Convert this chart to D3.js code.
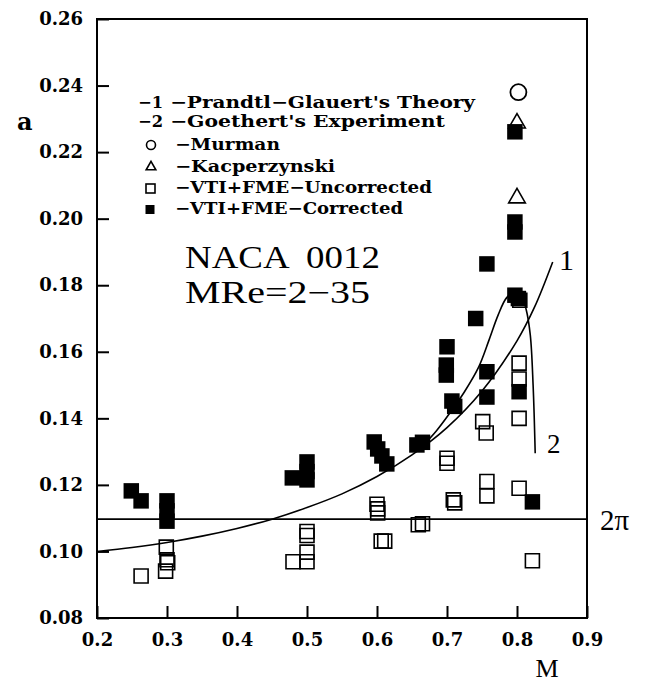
<!DOCTYPE html>
<html>
<head>
<meta charset="utf-8">
<script src="https://cdn.jsdelivr.net/npm/d3@7"></script>
<style>
  body { margin: 0; background: #fff; }
</style>
</head>
<body>
<div class="canva"></div>
<script>
// tick values
const xTicks = [0.2, 0.3, 0.4, 0.5, 0.6, 0.7, 0.8, 0.9];
const yTicks = [0.08, 0.10, 0.12, 0.14, 0.16, 0.18, 0.20, 0.22, 0.24, 0.26];

// curve 1 - Prandtl-Glauert theory
const pgM = [0.20, 0.25, 0.30, 0.35, 0.40, 0.45, 0.50, 0.55, 0.60, 0.65, 0.70, 0.75, 0.80, 0.825, 0.851];
const pgA = [0.1000, 0.1012, 0.1027, 0.1046, 0.1069, 0.1097, 0.1132, 0.1173, 0.1225, 0.1290, 0.1372, 0.1482, 0.1633, 0.1734, 0.1870];

// curve 2 - Goethert's experiment
const goM = [0.663, 0.685, 0.704, 0.725, 0.745, 0.760, 0.773, 0.785, 0.797, 0.806, 0.813, 0.819, 0.823, 0.826];
const goA = [0.1312, 0.1363, 0.1416, 0.1480, 0.1553, 0.1635, 0.1710, 0.1762, 0.1780, 0.1768, 0.1728, 0.1650, 0.1500, 0.1295];

// 2*pi per degree
const twoPi = 0.1097;

// Murman
const murM = [0.802];
const murA = [0.238];

// Kacperzynski
const kacM = [0.800, 0.800];
const kacA = [0.2287, 0.2062];

// VTI+FME uncorrected (open squares)
const uncM = [0.263, 0.299, 0.300, 0.301, 0.298, 0.480, 0.500, 0.500, 0.500, 0.500,
              0.600, 0.601, 0.601, 0.606, 0.611, 0.659, 0.665, 0.700, 0.700, 0.709,
              0.711, 0.751, 0.756, 0.757, 0.757, 0.803, 0.803, 0.803, 0.804, 0.803, 0.822];
const uncA = [0.0926, 0.1013, 0.0975, 0.0966, 0.0941, 0.0969, 0.1060, 0.1048, 0.0998, 0.0969,
              0.1142, 0.1128, 0.1116, 0.1031, 0.1031, 0.1080, 0.1083, 0.1280, 0.1265, 0.1155,
              0.1146, 0.1390, 0.1356, 0.1210, 0.1167, 0.1566, 0.1518, 0.1400, 0.1755, 0.1190, 0.0972];

// VTI+FME corrected (filled squares)
const corM = [0.249, 0.263, 0.300, 0.300, 0.300, 0.479, 0.500, 0.500, 0.500, 0.596,
              0.601, 0.607, 0.614, 0.657, 0.665, 0.700, 0.699, 0.699, 0.707, 0.711,
              0.741, 0.757, 0.757, 0.757, 0.797, 0.797, 0.797, 0.797, 0.802, 0.803, 0.822];
const corA = [0.1182, 0.1152, 0.1152, 0.1122, 0.1091, 0.1221, 0.1269, 0.1240, 0.1215, 0.1329,
              0.1308, 0.1287, 0.1263, 0.1320, 0.1328, 0.1615, 0.1560, 0.1530, 0.1452, 0.1436,
              0.1700, 0.1864, 0.1540, 0.1464, 0.2261, 0.1990, 0.1960, 0.1770, 0.1760, 0.1480, 0.1149];

const legendText = ["\u2212Prandtl\u2212Glauert's Theory", "\u2212Goethert's Experiment", "\u2212Murman",
                    "\u2212Kacperzynski", "\u2212VTI+FME\u2212Uncorrected", "\u2212VTI+FME\u2212Corrected"];

const W = 646, H = 684;
const mLeft = 97, mRight = 587, mTop = 19, mBottom = 618;

const canvas = d3.select(".canva");
const svg = canvas.append("svg")
            .attr("width", W)
            .attr("height", H);

const x = d3.scaleLinear().domain([0.2, 0.9]).range([mLeft, mRight]);
const y = d3.scaleLinear().domain([0.08, 0.26]).range([mBottom, mTop]);

const tickFont = "'DejaVu Serif', serif";

//axes, ticks pointing inward
const gy = svg.append("g")
    .attr("transform", `translate(${mLeft},0)`)
    .call(d3.axisLeft(y).tickValues(yTicks).tickFormat(d3.format(".2f"))
          .tickSize(-12).tickSizeOuter(0).tickPadding(14));
const gx = svg.append("g")
    .attr("transform", `translate(0,${mBottom})`)
    .call(d3.axisBottom(x).tickValues(xTicks).tickFormat(d3.format(".1f"))
          .tickSize(-12).tickSizeOuter(0).tickPadding(15));

[gy, gx].forEach(g => {
  g.select(".domain").remove();
  g.selectAll("line").attr("stroke", "#000").attr("stroke-width", 2);
  g.selectAll("text")
    .attr("fill", "#000")
    .attr("font-family", tickFont)
    .attr("font-weight", "bold")
    .attr("font-size", 18);
});

// frame
svg.append("rect")
    .attr("x", mLeft)
    .attr("y", mTop)
    .attr("width", mRight - mLeft)
    .attr("height", mBottom - mTop)
    .attr("fill", "none")
    .attr("stroke", "#000")
    .attr("stroke-width", 2);

// 2pi line
svg.append("line")
    .attr("x1", x(0.2))
    .attr("x2", x(0.9))
    .attr("y1", y(twoPi))
    .attr("y2", y(twoPi))
    .attr("stroke", "#000")
    .attr("stroke-width", 1.6);

// curves
const line = d3.line()
    .x(d => x(d[0]))
    .y(d => y(d[1]))
    .curve(d3.curveCatmullRom.alpha(0.5));

svg.append("path")
    .attr("d", line(d3.zip(pgM, pgA)))
    .attr("fill", "none")
    .attr("stroke", "#000")
    .attr("stroke-width", 1.6);

svg.append("path")
    .attr("d", line(d3.zip(goM, goA)))
    .attr("fill", "none")
    .attr("stroke", "#000")
    .attr("stroke-width", 1.6);

// markers
const sym = (type, size) => d3.symbol().type(type).size(size)();

svg.selectAll(".unc")
    .data(d3.zip(uncM, uncA))
    .join("path")
    .attr("class", "unc")
    .attr("transform", d => `translate(${x(d[0])},${y(d[1])})`)
    .attr("d", sym(d3.symbolSquare, 196))
    .attr("fill", "none")
    .attr("stroke", "#000")
    .attr("stroke-width", 1.6);

svg.selectAll(".kac")
    .data(d3.zip(kacM, kacA))
    .join("path")
    .attr("class", "kac")
    .attr("transform", d => `translate(${x(d[0])},${y(d[1])})`)
    .attr("d", sym(d3.symbolTriangle, 120))
    .attr("fill", "#fff")
    .attr("stroke", "#000")
    .attr("stroke-width", 1.6);

svg.selectAll(".mur")
    .data(d3.zip(murM, murA))
    .join("circle")
    .attr("class", "mur")
    .attr("cx", d => x(d[0]))
    .attr("cy", d => y(d[1]))
    .attr("r", 8)
    .attr("fill", "none")
    .attr("stroke", "#000")
    .attr("stroke-width", 1.8);

svg.selectAll(".cor")
    .data(d3.zip(corM, corA))
    .join("path")
    .attr("class", "cor")
    .attr("transform", d => `translate(${x(d[0])},${y(d[1])})`)
    .attr("d", sym(d3.symbolSquare, 240))
    .attr("fill", "#000");

// legend
const legY = [108, 127, 150, 172, 193, 214];
const legX = [170, 170, 175, 175, 175, 175];
const legLen = [305, 275, 105, 160, 257, 228];

svg.selectAll(".leg")
    .data(legendText)
    .join("text")
    .attr("class", "leg")
    .text(d => d)
    .attr("x", (d, i) => legX[i])
    .attr("y", (d, i) => legY[i])
    .attr("textLength", (d, i) => legLen[i])
    .attr("lengthAdjust", "spacingAndGlyphs")
    .attr("font-family", tickFont)
    .attr("font-weight", "bold")
    .attr("font-size", 16);

["\u22121", "\u22122"].forEach((t, i) => {
  svg.append("text")
    .text(t)
    .attr("x", 138)
    .attr("y", legY[i])
    .attr("textLength", 25)
    .attr("lengthAdjust", "spacingAndGlyphs")
    .attr("font-family", tickFont)
    .attr("font-weight", "bold")
    .attr("font-size", 16);
});

svg.append("circle")
    .attr("cx", 151).attr("cy", 145)
    .attr("r", 4.5)
    .attr("fill", "none").attr("stroke", "#000").attr("stroke-width", 1.6);
svg.append("path")
    .attr("transform", "translate(151,167)")
    .attr("d", sym(d3.symbolTriangle, 40))
    .attr("fill", "none").attr("stroke", "#000").attr("stroke-width", 1.6);
svg.append("rect")
    .attr("x", 146).attr("y", 184).attr("width", 9).attr("height", 9)
    .attr("fill", "none").attr("stroke", "#000").attr("stroke-width", 1.6);
svg.append("rect")
    .attr("x", 145.5).attr("y", 205).attr("width", 9).attr("height", 9)
    .attr("fill", "#000");

// annotations
const serif = "'Liberation Serif', 'Times New Roman', serif";

svg.append("text")
    .text("NACA  0012")
    .attr("x", 185).attr("y", 268)
    .attr("textLength", 195).attr("lengthAdjust", "spacingAndGlyphs")
    .style("white-space", "pre")
    .attr("font-family", serif).attr("font-size", 31);

svg.append("text")
    .text("MRe=2\u221235")
    .attr("x", 185).attr("y", 303)
    .attr("textLength", 185).attr("lengthAdjust", "spacingAndGlyphs")
    .attr("font-family", serif).attr("font-size", 31);

svg.append("text")
    .text("1")
    .attr("x", 559).attr("y", 270)
    .attr("font-family", serif).attr("font-size", 30);

svg.append("text")
    .text("2")
    .attr("x", 547).attr("y", 453)
    .attr("font-family", serif).attr("font-size", 27);

svg.append("text")
    .text("2\u03c0")
    .attr("x", 600).attr("y", 530)
    .attr("font-family", serif).attr("font-size", 29);

// axis titles
svg.append("text")
    .text("a")
    .attr("x", 17).attr("y", 130)
    .attr("font-family", tickFont).attr("font-weight", "bold")
    .attr("font-size", 24);

svg.append("text")
    .text("M")
    .attr("x", 547).attr("y", 677)
    .attr("text-anchor", "middle")
    .attr("font-family", serif).attr("font-size", 26);
</script>
</body>
</html>
